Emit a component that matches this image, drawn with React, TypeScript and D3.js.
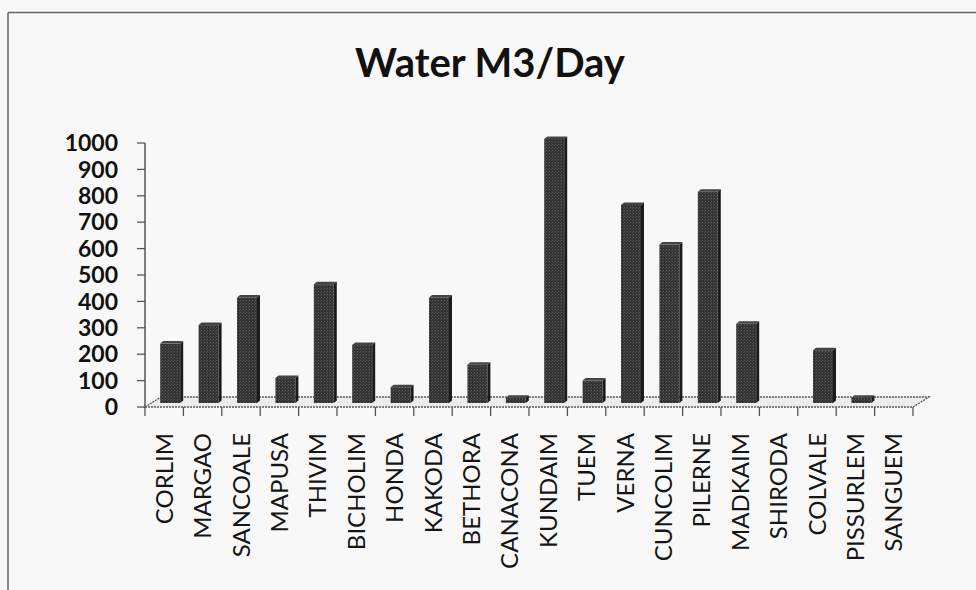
import React from "react";
import * as d3 from "d3";

const categories = [
  "CORLIM", "MARGAO", "SANCOALE", "MAPUSA", "THIVIM", "BICHOLIM", "HONDA",
  "KAKODA", "BETHORA", "CANACONA", "KUNDAIM", "TUEM", "VERNA", "CUNCOLIM",
  "PILERNE", "MADKAIM", "SHIRODA", "COLVALE", "PISSURLEM", "SANGUEM",
];
const values = [225, 295, 400, 95, 450, 220, 60, 400, 145, 20, 1000, 85, 750, 600, 800, 300, 0, 200, 20, 0];
const yTicks = [0, 100, 200, 300, 400, 500, 600, 700, 800, 900, 1000];
const title = "Water M3/Day";

const W = 976;
const H = 590;

export default function App() {
  const x = d3.scaleBand<string>().domain(categories).range([145, 913]).paddingInner(0.48).paddingOuter(0.24);
  const y = d3.scaleLinear().domain([0, 1000]).range([407, 143]);
  const step = x.step();
  const y0 = y(0);
  const floorDX = 16, floorDY = -10;
  const barDX = 6, barDY = -4;
  const sideDX = 3, sideDY = -2.5;
  const font = "Lato, 'Open Sans', sans-serif";

  return (
    <svg width={W} height={H} style={{ position: "absolute", left: 0, top: 0, background: "#f8f8f8" }}>
      <defs>
        <pattern id="tex" width="3" height="3" patternUnits="userSpaceOnUse">
          <rect width="3" height="3" fill="#333" />
          <rect width="1" height="1" fill="#5e5e5e" />
          <rect x="2" y="1" width="1" height="1" fill="#4a4a4a" />
        </pattern>
      </defs>
      <rect x={0} y={0} width={W} height={H} fill="#f8f8f8" />
      {/* frame */}
      <line x1={8} y1={12.5} x2={W} y2={12.5} stroke="#666" strokeWidth={1.5} />
      <line x1={8} y1={12.5} x2={8} y2={H} stroke="#666" strokeWidth={1.5} />

      <text x={490} y={77} textAnchor="middle" fontFamily={font} fontWeight={700} fontSize={40} fill="#111">
        {title}
      </text>

      {/* floor */}
      <polygon
        points={`${x.range()[0]},${y0} ${x.range()[1]},${y0} ${x.range()[1] + floorDX},${y0 + floorDY} ${x.range()[0] + floorDX},${y0 + floorDY}`}
        fill="#ececec"
        stroke="#555"
        strokeWidth={1.3}
        strokeDasharray="2 1"
      />

      {/* y axis */}
      <line x1={145} y1={y(1000)} x2={145} y2={y0} stroke="#555" strokeWidth={1.5} />
      {yTicks.map((t) => (
        <g key={t}>
          <line x1={137} y1={y(t)} x2={145} y2={y(t)} stroke="#555" strokeWidth={1.3} />
          <text x={118} y={y(t)} dy="0.36em" textAnchor="end" fontFamily={font} fontWeight={700} fontSize={23} fill="#111">
            {t}
          </text>
        </g>
      ))}

      {/* x ticks */}
      {d3.range(categories.length + 1).map((i) => {
        const tx = x.range()[0] + i * step;
        return <line key={i} x1={tx} y1={y0} x2={tx} y2={y0 + 9} stroke="#555" strokeWidth={1.3} />;
      })}

      {/* bars */}
      {categories.map((c, i) => {
        const v = values[i];
        if (v <= 0) return null;
        const bx = (x(c) as number) + barDX;
        const bw = x.bandwidth();
        const by0 = y0 + barDY;
        const h = y0 - y(v);
        const top = by0 - h;
        return (
          <g key={c}>
            <polygon
              points={`${bx + bw},${by0} ${bx + bw + sideDX},${by0 + sideDY} ${bx + bw + sideDX},${top + sideDY} ${bx + bw},${top}`}
              fill="#1a1a1a"
            />
            <polygon
              points={`${bx},${top} ${bx + bw},${top} ${bx + bw + sideDX},${top + sideDY} ${bx + sideDX},${top + sideDY}`}
              fill="#444"
            />
            <rect x={bx} y={top} width={bw} height={h} fill="url(#tex)" />
          </g>
        );
      })}

      {/* category labels */}
      {categories.map((c) => {
        const cx = (x(c) as number) + x.bandwidth() / 2;
        return (
          <text
            key={c}
            transform={`translate(${cx},433) rotate(-90)`}
            dy="0.36em"
            textAnchor="end"
            fontFamily={font}
            fontSize={24}
            fill="#151515"
          >
            {c}
          </text>
        );
      })}
    </svg>
  );
}
